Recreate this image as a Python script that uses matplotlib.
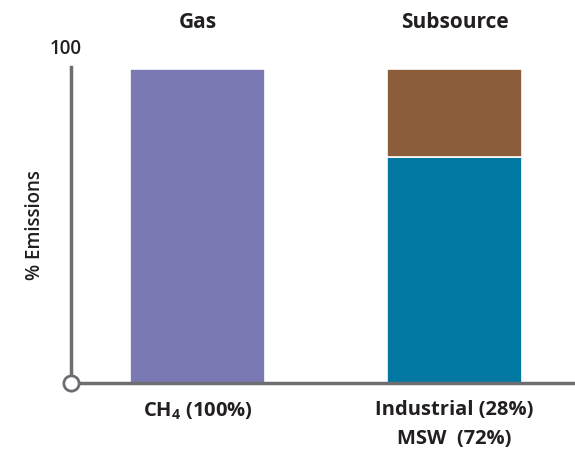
import numpy as np
import matplotlib.pyplot as plt

plt.rcParams['font.family'] = ['Open Sans', 'DejaVu Sans']
plt.rcParams['mathtext.fontset'] = 'custom'
plt.rcParams['mathtext.bf'] = 'Open Sans:bold'

# data
panels = ['Gas', 'Subsource']
gas_ch4 = [100, 0]
sub_msw = [0, 72]
sub_industrial = [0, 28]
tick_labels = [r'CH$_\mathbf{4}$ (100%)', 'Industrial (28%)\nMSW  (72%)']

purple = '#7b79b3'
teal = '#0078a1'
brown = '#8b5d3b'
grey = '#6d6e71'

fig = plt.figure(figsize=(5.75, 4.5), dpi=100)
ax = fig.add_axes([71 / 575, 1 - 383 / 450, 502 / 575, (383 - 69) / 450])

x = np.arange(len(panels))
w = 0.525
ax.bar(x[0], gas_ch4[0], width=w, color=purple, edgecolor='white', linewidth=1.2)
ax.bar(x[1], sub_msw[1], width=w, color=teal, edgecolor='white', linewidth=1.2)
ax.bar(x[1], sub_industrial[1], bottom=sub_msw[1], width=w, color=brown,
       edgecolor='white', linewidth=1.2)

ax.set_xlim(-0.492, 1.461)
ax.set_ylim(0, 100)

for s in ['top', 'right']:
    ax.spines[s].set_visible(False)
for s in ['left', 'bottom']:
    ax.spines[s].set_color(grey)
    ax.spines[s].set_linewidth(2.5)
ax.spines['left'].set_bounds(0, 100.6)

ax.set_xticks([])
ax.set_yticks([])

# origin circle
ax.plot([-0.492], [0], marker='o', markersize=11, markerfacecolor='white',
        markeredgecolor=grey, markeredgewidth=2, clip_on=False, zorder=5)

# panel titles
for xi, t in zip(x, panels):
    fig.text(ax.transData.transform((xi, 0))[0] / 575, 1 - 22 / 450, t,
             ha='center', va='center', fontsize=15, fontweight='bold', color='#231f20')

fig.text(66 / 575, 1 - 49 / 450, '100', ha='center', va='center', fontsize=13.5,
         fontweight='semibold', color='#231f20')
fig.text(35 / 575, 1 - 225 / 450, '% Emissions', ha='center', va='center',
         rotation=90, fontsize=13.5, fontweight='semibold', color='#231f20')

for xi, t in zip(x, tick_labels):
    ax.text(xi, -5.5, t, ha='center', va='top', fontsize=14.5, fontweight='bold',
            color='#231f20', linespacing=1.55)

fig.savefig('out.png', dpi=100)
